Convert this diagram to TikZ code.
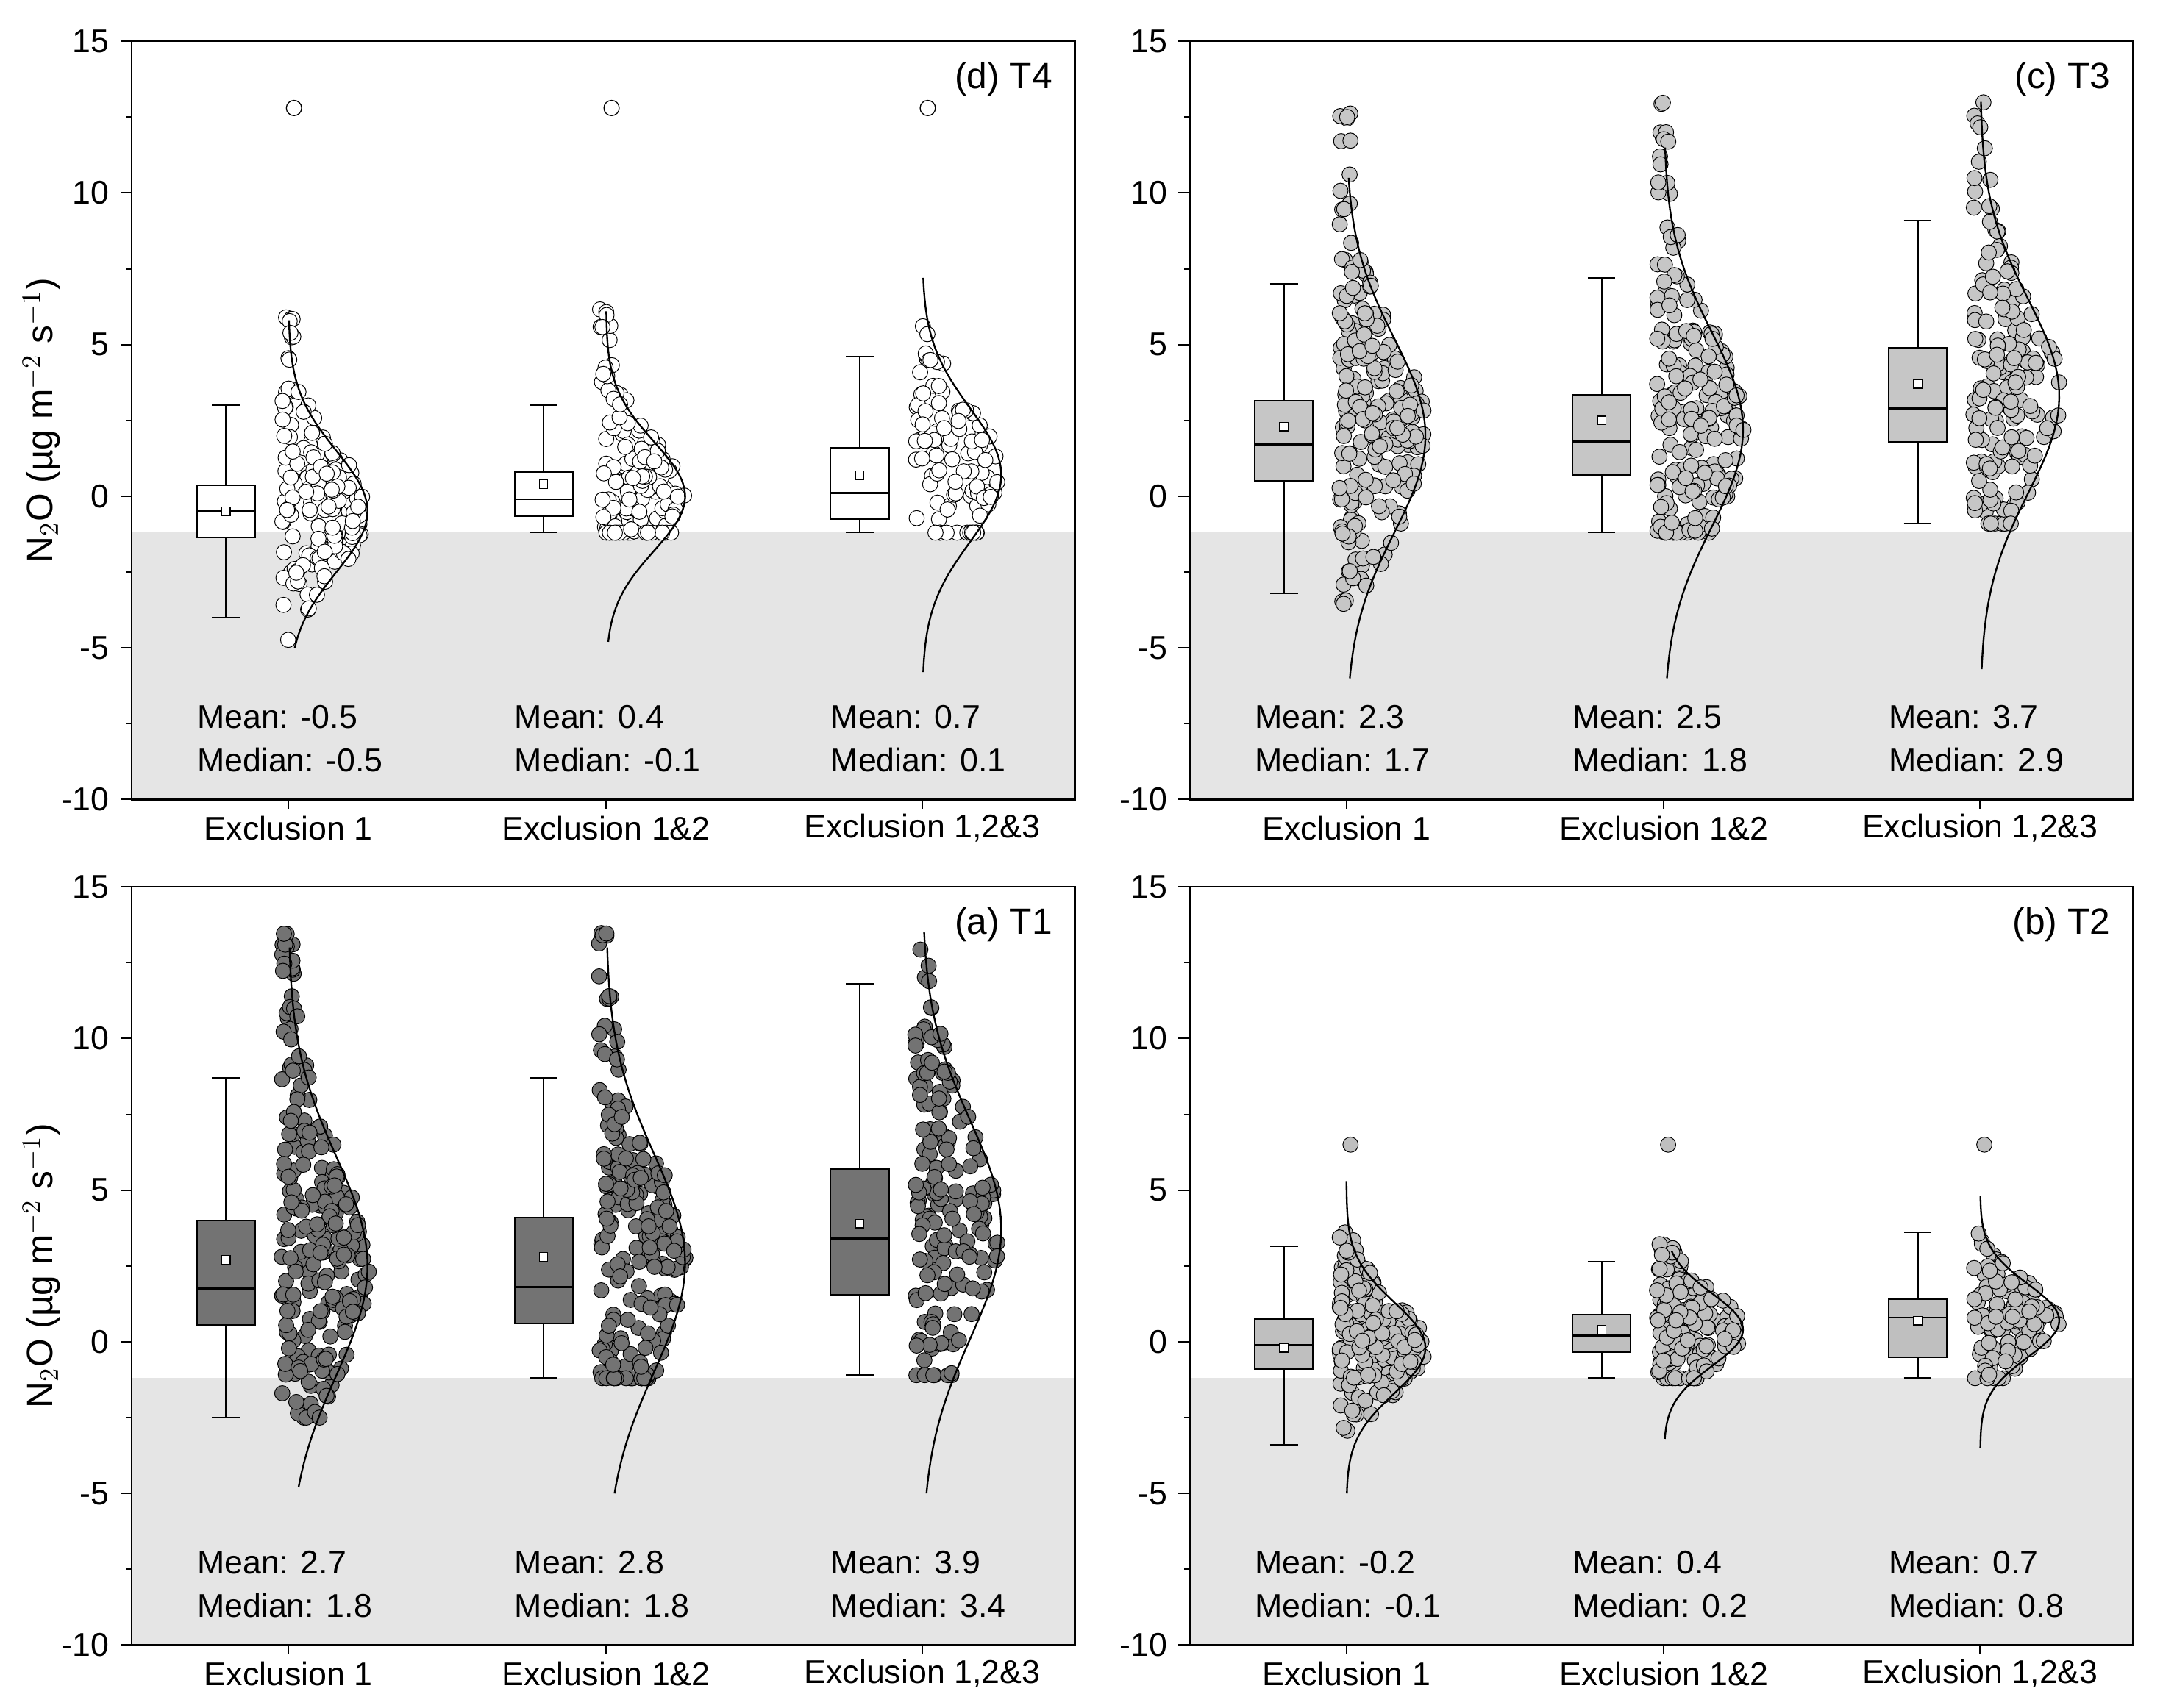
\documentclass[tikz,border=0pt]{standalone}
\usepackage{fontspec}
\setmainfont{Liberation Sans}
\begin{document}
\begin{tikzpicture}[x=0.02cm,y=0.4376cm,
  lab/.style={font=\fontsize{13.5}{15}\selectfont},
  axl/.style={font=\fontsize{15}{17}\selectfont}]
\useasboundingbox (0cm,0cm) rectangle (31.2cm,-24.64cm);
\pgfmathsetseed{7}
\newcommand{\bxp}[7]{%
  \draw[line width=0.6pt] (#1,#2) -- (#1,#3) (#1,#5) -- (#1,#6);
  \draw[line width=0.6pt] (#1-10,#2) -- (#1+10,#2) (#1-10,#6) -- (#1+10,#6);
  \filldraw[fill=\pf,line width=0.6pt] (#1-21,#3) rectangle (#1+21,#5);
  \draw[line width=0.8pt] (#1-21,#4) -- (#1+21,#4);
  \draw[line width=0.4pt,fill=white] (#1-3,#7-0.14) rectangle (#1+3,#7+0.14);}
\newcommand{\dst}[8]{%
  \foreach \i in {1,...,#8}{%
    \pgfmathsetmacro\zz{(rnd+rnd+rnd-1.5)*2}%
    \pgfmathsetmacro\uu{rnd}%
    \pgfmathsetmacro\yy{\uu<0.2 ? #2+rnd*(#7-#2) : max(#6,min(#7,#2+0.8*#3*\zz))}%
    \pgfmathsetmacro\ww{8+55*exp(-((\yy-#2)/#3)^2/2)}%
    \pgfmathsetmacro\xx{#1+40+rnd*\ww}%
    \filldraw[fill=\pf,draw=black,line width=0.3pt] (\xx,\yy) circle[radius=0.11cm];}
  \draw[line width=0.7pt] plot[domain=#4:#5,samples=70,variable=\t] ({#1+45+57*exp(-((\t-#2)/#3)^2/2)},\t);}
\newcommand{\frm}[1]{%
  \fill[gray!20] (0,-10) rectangle (680,-1.2);
  \draw[line width=0.7pt] (0,-10) rectangle (680,15);
  \foreach \v in {-10,-5,0,5,10,15}{\draw[line width=0.6pt] (0,\v) -- (-8,\v); \node[lab,anchor=east] at (-10,\v) {\v};}
  \foreach \v in {-7.5,-2.5,2.5,7.5,12.5}{\draw[line width=0.6pt] (0,\v) -- (-4,\v);}
  \foreach \x/\t in {113/{Exclusion 1},342/{Exclusion 1\&2},570/{Exclusion 1{,}2\&3}}{\draw[line width=0.6pt] (\x,-10) -- (\x,-10.3); \node[lab] at (\x,-10.95) {\t};}
  \node[axl,anchor=north east] at (670,14.6) {#1};}
\newcommand{\mm}[3]{\node[lab,anchor=west] at (#1-27,-7.27) {Mean: #2}; \node[lab,anchor=west] at (#1-27,-8.7) {Median: #3};}
\newcommand{\ylab}{\node[axl,rotate=90] at (-65,2.5) {N$_2$O (\textmu g m$^{-2}$ s$^{-1}$)};}
% (d)
\begin{scope}[shift={(1.9cm,-7.16cm)}]
\def\pf{white}
\frm{(d) T4}
\ylab
\dst{68}{-0.5}{2.0}{-5}{5.8}{-6.5}{6.4}{160}
\dst{297}{0}{1.8}{-4.8}{6.1}{-1.2}{6.4}{140}
\dst{525}{0.7}{2.2}{-5.8}{7.2}{-1.2}{5.9}{100}
\foreach \c in {68,297,525}{\filldraw[fill=white,line width=0.4pt] (\c+49,12.8) circle[radius=0.11cm];}
\bxp{68}{-4}{-1.35}{-0.5}{0.35}{3}{-0.5}
\bxp{297}{-1.2}{-0.65}{-0.1}{0.8}{3}{0.4}
\bxp{525}{-1.2}{-0.75}{0.1}{1.6}{4.6}{0.7}
\mm{68}{-0.5}{-0.5}\mm{297}{0.4}{-0.1}\mm{525}{0.7}{0.1}
\end{scope}
% (c)
\begin{scope}[shift={(17.16cm,-7.16cm)}]
\def\pf{gray!45}
\frm{(c) T3}
\dst{68}{2.0}{3.2}{-6}{10.5}{-5.3}{13}{220}
\dst{297}{2.2}{3.2}{-6}{11.5}{-1.2}{13}{200}
\dst{525}{3.3}{3.2}{-5.7}{13}{-0.9}{13}{170}
\bxp{68}{-3.2}{0.5}{1.7}{3.15}{7}{2.3}
\bxp{297}{-1.2}{0.7}{1.8}{3.35}{7.2}{2.5}
\bxp{525}{-0.9}{1.8}{2.9}{4.9}{9.1}{3.7}
\mm{68}{2.3}{1.7}\mm{297}{2.5}{1.8}\mm{525}{3.7}{2.9}
\end{scope}
% (a)
\begin{scope}[shift={(1.9cm,-19.36cm)}]
\def\pf{black!55}
\frm{(a) T1}
\ylab
\dst{68}{2.5}{3.6}{-4.8}{13}{-2.5}{13.6}{230}
\dst{297}{2.6}{3.6}{-5}{13}{-1.2}{13.6}{210}
\dst{525}{3.7}{3.6}{-5}{13.5}{-1.1}{13.6}{170}
\bxp{68}{-2.5}{0.55}{1.75}{4.0}{8.7}{2.7}
\bxp{297}{-1.2}{0.6}{1.8}{4.1}{8.7}{2.8}
\bxp{525}{-1.1}{1.55}{3.4}{5.7}{11.8}{3.9}
\mm{68}{2.7}{1.8}\mm{297}{2.8}{1.8}\mm{525}{3.9}{3.4}
\end{scope}
% (b)
\begin{scope}[shift={(17.16cm,-19.36cm)}]
\def\pf{gray!50}
\frm{(b) T2}
\dst{68}{-0.2}{1.5}{-5}{5.3}{-6}{3.7}{200}
\dst{297}{0.4}{1.2}{-3.2}{3}{-1.2}{3.7}{160}
\dst{525}{0.7}{1.2}{-3.5}{4.8}{-1.2}{3.7}{120}
\foreach \c in {68,297,525}{\filldraw[fill=gray!50,line width=0.3pt] (\c+48,6.5) circle[radius=0.11cm];}
\bxp{68}{-3.4}{-0.9}{-0.1}{0.75}{3.15}{-0.2}
\bxp{297}{-1.2}{-0.35}{0.2}{0.9}{2.65}{0.4}
\bxp{525}{-1.2}{-0.5}{0.8}{1.4}{3.6}{0.7}
\mm{68}{-0.2}{-0.1}\mm{297}{0.4}{0.2}\mm{525}{0.7}{0.8}
\end{scope}
\end{tikzpicture}
\end{document}
